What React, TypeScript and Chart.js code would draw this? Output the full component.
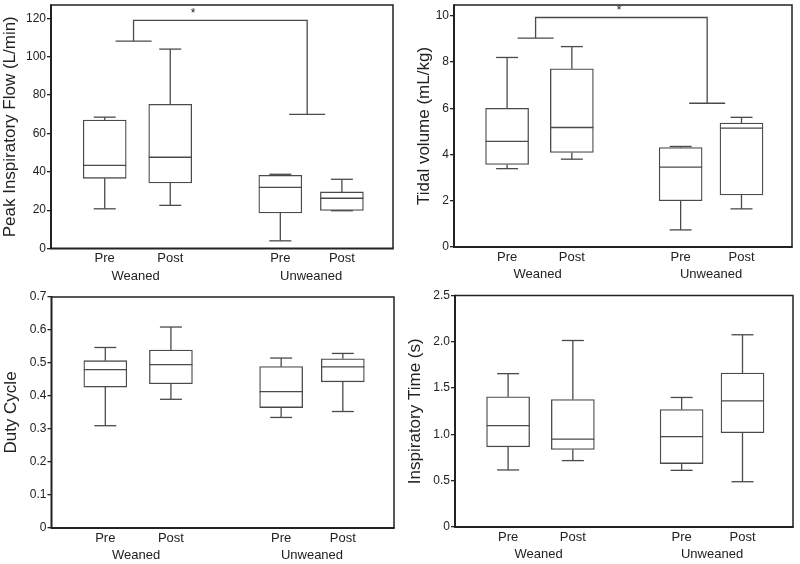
import React, { useEffect, useRef } from 'react';
import { Chart, registerables } from 'chart.js';

Chart.register(...registerables);

// ---------- data ----------
const categories = ['Pre', 'Post', 'Pre', 'Post'];
const groups = ['Weaned', 'Unweaned'];

// Peak Inspiratory Flow (L/min)
const pifMin = [20.7, 22.5, 4.0, 19.7];
const pifQ1 = [36.6, 34.2, 18.5, 19.9];
const pifMedian = [43.4, 47.6, 31.9, 26.2];
const pifQ3 = [67.0, 75.2, 38.2, 29.5];
const pifMax = [68.5, 104.0, 38.7, 36.1];
const pifBracket = [119, 108.2, 70.0]; // top, left end, right end
const pifTicks = [0, 20, 40, 60, 80, 100, 120];
const pifTickLabels = ['0', '20', '40', '60', '80', '100', '120'];

// Tidal volume (mL/kg)
const tvMin = [3.39, 3.8, 0.74, 1.65];
const tvQ1 = [3.57, 4.09, 2.0, 2.25];
const tvMedian = [4.57, 5.17, 3.46, 5.14];
const tvQ3 = [6.0, 7.71, 4.3, 5.36];
const tvMax = [8.2, 8.67, 4.35, 5.61];
const tvBracket = [9.93, 9.04, 6.22];
const tvTicks = [0, 2, 4, 6, 8, 10];
const tvTickLabels = ['0', '2', '4', '6', '8', '10'];

// Duty Cycle
const dcMin = [0.31, 0.39, 0.335, 0.353];
const dcQ1 = [0.427, 0.437, 0.365, 0.443];
const dcMedian = [0.48, 0.495, 0.413, 0.488];
const dcQ3 = [0.507, 0.539, 0.489, 0.513];
const dcMax = [0.547, 0.609, 0.515, 0.529];
const dcTicks = [0, 0.1, 0.2, 0.3, 0.4, 0.5, 0.6, 0.7];
const dcTickLabels = ['0', '0.1', '0.2', '0.3', '0.4', '0.5', '0.6', '0.7'];

// Inspiratory Time (s)
const itMin = [0.616, 0.717, 0.612, 0.489];
const itQ1 = [0.866, 0.837, 0.685, 1.018];
const itMedian = [1.094, 0.949, 0.975, 1.362];
const itQ3 = [1.406, 1.377, 1.268, 1.663];
const itMax = [1.656, 2.014, 1.399, 2.076];
const itTicks = [0, 0.5, 1.0, 1.5, 2.0, 2.5];
const itTickLabels = ['0', '0.5', '1.0', '1.5', '2.0', '2.5'];

// ---------- layout constants ----------
const xPositions = [1, 2, 3.68, 4.62];
const groupPositions = [1.47, 4.15];
const bracketX = [1.44, 4.09];
const X_MIN = 0.18;
const X_MAX = 5.4;
const FONT = "'Liberation Sans', Arial, Helvetica, sans-serif";
const LINE = '#4a4a4a';
const FRAME = '#222';
const TEXT = '#222';

type PanelCfg = {
  title: string;
  yMax: number;
  ticks: number[];
  tickLabels: string[];
  min: number[];
  q1: number[];
  median: number[];
  q3: number[];
  max: number[];
  bracket?: number[];
  starX?: number;
  yWidth: number;
  padTop: number;
  padRight: number;
  bottomSpace: number;
  titlePad: number;
  left: number;
  top: number;
};

const panels: PanelCfg[] = [
  {
    title: 'Peak Inspiratory Flow (L/min)', yMax: 127, ticks: pifTicks, tickLabels: pifTickLabels,
    min: pifMin, q1: pifQ1, median: pifMedian, q3: pifQ3, max: pifMax, bracket: pifBracket, starX: 2.35,
    yWidth: 51, padTop: 5, padRight: 7, bottomSpace: 33.5, titlePad: 0, left: 0, top: 0,
  },
  {
    title: 'Tidal volume (mL/kg)', yMax: 10.47, ticks: tvTicks, tickLabels: tvTickLabels,
    min: tvMin, q1: tvQ1, median: tvMedian, q3: tvQ3, max: tvMax, bracket: tvBracket, starX: 2.73,
    yWidth: 54, padTop: 5, padRight: 8, bottomSpace: 35, titlePad: 14, left: 400, top: 0,
  },
  {
    title: 'Duty Cycle', yMax: 0.7, ticks: dcTicks, tickLabels: dcTickLabels,
    min: dcMin, q1: dcQ1, median: dcMedian, q3: dcQ3, max: dcMax,
    yWidth: 51.5, padTop: 15, padRight: 6, bottomSpace: 36, titlePad: 1, left: 0, top: 282,
  },
  {
    title: 'Inspiratory Time (s)', yMax: 2.5, ticks: itTicks, tickLabels: itTickLabels,
    min: itMin, q1: itQ1, median: itMedian, q3: itQ3, max: itMax,
    yWidth: 55, padTop: 13.5, padRight: 7, bottomSpace: 37, titlePad: 5, left: 400, top: 282,
  },
];

function makeBoxPlugin(cfg: PanelCfg) {
  return {
    id: 'boxExtras',
    afterDatasetsDraw(chart: any) {
      const { ctx, scales } = chart;
      const xs = scales.x;
      const ys = scales.y;
      const capHalf = 11;
      const boxHalf = 21.5;
      ctx.save();
      ctx.strokeStyle = LINE;
      ctx.lineWidth = 1.3;
      const seg = (x1: number, y1: number, x2: number, y2: number) => {
        ctx.beginPath();
        ctx.moveTo(x1, y1);
        ctx.lineTo(x2, y2);
        ctx.stroke();
      };
      xPositions.forEach((xv, i) => {
        const cx = xs.getPixelForValue(xv);
        const yMed = ys.getPixelForValue(cfg.median[i]);
        const yQ1 = ys.getPixelForValue(cfg.q1[i]);
        const yQ3 = ys.getPixelForValue(cfg.q3[i]);
        const yMin = ys.getPixelForValue(cfg.min[i]);
        const yMax = ys.getPixelForValue(cfg.max[i]);
        seg(cx - boxHalf, yMed, cx + boxHalf, yMed);
        seg(cx, yQ3, cx, yMax);
        seg(cx - capHalf, yMax, cx + capHalf, yMax);
        seg(cx, yQ1, cx, yMin);
        seg(cx - capHalf, yMin, cx + capHalf, yMin);
      });
      if (cfg.bracket) {
        const [topV, leftV, rightV] = cfg.bracket;
        const xl = xs.getPixelForValue(bracketX[0]);
        const xr = xs.getPixelForValue(bracketX[1]);
        const yt = ys.getPixelForValue(topV);
        const yl = ys.getPixelForValue(leftV);
        const yr = ys.getPixelForValue(rightV);
        ctx.beginPath();
        ctx.moveTo(xl, yl);
        ctx.lineTo(xl, yt);
        ctx.lineTo(xr, yt);
        ctx.lineTo(xr, yr);
        ctx.stroke();
        seg(xl - 18, yl, xl + 18, yl);
        seg(xr - 18, yr, xr + 18, yr);
        ctx.fillStyle = TEXT;
        ctx.font = `12px ${FONT}`;
        ctx.textAlign = 'center';
        ctx.textBaseline = 'bottom';
        ctx.fillText('*', xs.getPixelForValue(cfg.starX ?? 2.5), yt - 1);
      }
      ctx.restore();
    },
    afterDraw(chart: any) {
      const { ctx, chartArea } = chart;
      const { left, right, top, bottom } = chartArea;
      ctx.save();
      ctx.strokeStyle = FRAME;
      ctx.lineWidth = 1.5;
      ctx.beginPath();
      ctx.moveTo(left, top);
      ctx.lineTo(right, top);
      ctx.lineTo(right, bottom);
      ctx.stroke();
      ctx.lineWidth = 2;
      ctx.beginPath();
      ctx.moveTo(left, top - 0.75);
      ctx.lineTo(left, bottom);
      ctx.lineTo(right + 0.75, bottom);
      ctx.stroke();
      ctx.restore();
    },
  };
}

function Panel({ cfg }: { cfg: PanelCfg }) {
  const ref = useRef<HTMLCanvasElement>(null);
  useEffect(() => {
    if (!ref.current) return;
    const chart = new Chart(ref.current, {
      type: 'bar',
      data: {
        datasets: [
          {
            data: xPositions.map((x, i) => ({ x, y: [cfg.q1[i], cfg.q3[i]] })) as any,
            backgroundColor: '#ffffff',
            borderColor: LINE,
            borderWidth: 1.3,
            borderSkipped: false,
            barThickness: 43,
          } as any,
        ],
      },
      options: {
        animation: false,
        responsive: false,
        maintainAspectRatio: false,
        events: [],
        layout: { padding: { left: 0, top: cfg.padTop, right: cfg.padRight, bottom: 0 } },
        plugins: { legend: { display: false }, tooltip: { enabled: false } },
        scales: {
          x: {
            type: 'linear',
            position: 'bottom',
            weight: 0,
            min: X_MIN,
            max: X_MAX,
            offset: false,
            grid: { display: false, drawTicks: false, tickLength: 0 },
            border: { display: false },
            afterBuildTicks: (s: any) => {
              s.ticks = xPositions.map((v) => ({ value: v }));
            },
            ticks: {
              autoSkip: false,
              maxRotation: 0,
              padding: 2.2,
              color: TEXT,
              font: { family: FONT, size: 13 },
              callback: (_v: any, i: number) => categories[i],
            },
            afterFit: (s: any) => {
              s.height = 18;
              s.paddingLeft = 0;
              s.paddingRight = 0;
            },
          } as any,
          x2: {
            type: 'linear',
            position: 'bottom',
            weight: 1,
            min: X_MIN,
            max: X_MAX,
            offset: false,
            grid: { display: false, drawTicks: false, tickLength: 0 },
            border: { display: false },
            afterBuildTicks: (s: any) => {
              s.ticks = groupPositions.map((v) => ({ value: v }));
            },
            ticks: {
              autoSkip: false,
              maxRotation: 0,
              padding: 1.7,
              color: TEXT,
              font: { family: FONT, size: 13 },
              callback: (_v: any, i: number) => groups[i],
            },
            afterFit: (s: any) => {
              s.height = cfg.bottomSpace - 18;
              s.paddingLeft = 0;
              s.paddingRight = 0;
            },
          } as any,
          y: {
            type: 'linear',
            min: 0,
            max: cfg.yMax,
            afterBuildTicks: (s: any) => {
              s.ticks = cfg.ticks.map((v) => ({ value: v }));
            },
            grid: { drawOnChartArea: false, drawTicks: true, tickLength: 4, color: FRAME, lineWidth: 1.3 },
            border: { display: false },
            ticks: {
              padding: 1,
              color: TEXT,
              font: { family: FONT, size: 12 },
              callback: (_v: any, i: number) => cfg.tickLabels[i],
            },
            title: {
              display: true,
              text: cfg.title,
              color: TEXT,
              font: { family: FONT, size: 17 },
              padding: { top: cfg.titlePad, bottom: 0 },
            },
            afterFit: (s: any) => {
              s.width = cfg.yWidth;
              s.paddingTop = 0;
              s.paddingBottom = 0;
            },
          } as any,
        },
      } as any,
      plugins: [makeBoxPlugin(cfg)],
    });
    return () => chart.destroy();
  }, [cfg]);
  return (
    <canvas
      ref={ref}
      width={400}
      height={282}
      style={{ position: 'absolute', left: cfg.left, top: cfg.top, width: 400, height: 282, display: 'block' }}
    />
  );
}

export default function App() {
  return (
    <div style={{ position: 'absolute', left: 0, top: 0, width: 800, height: 564, background: '#fff', overflow: 'hidden' }}>
      {panels.map((p, i) => (
        <Panel key={i} cfg={p} />
      ))}
    </div>
  );
}
